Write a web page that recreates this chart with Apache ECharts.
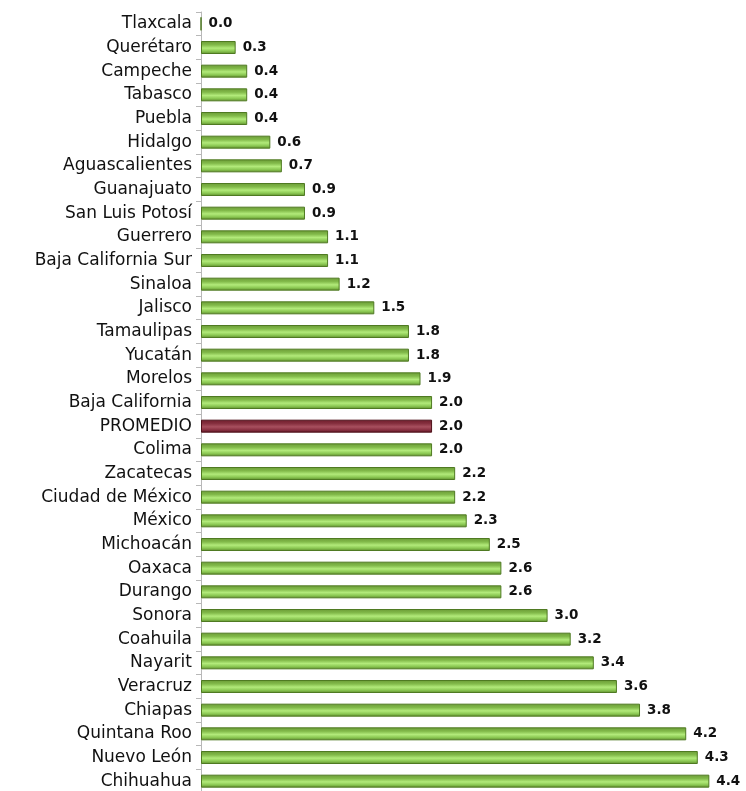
<!DOCTYPE html>
<html>
<head>
<meta charset="utf-8">
<script src="https://cdn.jsdelivr.net/npm/echarts@6/dist/echarts.min.js"></script>
<style>
  html, body { margin: 0; padding: 0; background: #ffffff; }
  #chart { width: 746px; height: 791px; }
</style>
</head>
<body>
<div id="chart"></div>
<script>
// States ordered from lowest to highest rate
const states = [
  'Tlaxcala', 'Querétaro', 'Campeche', 'Tabasco', 'Puebla', 'Hidalgo',
  'Aguascalientes', 'Guanajuato', 'San Luis Potosí', 'Guerrero',
  'Baja California Sur', 'Sinaloa', 'Jalisco', 'Tamaulipas', 'Yucatán',
  'Morelos', 'Baja California', 'PROMEDIO', 'Colima', 'Zacatecas',
  'Ciudad de México', 'México', 'Michoacán', 'Oaxaca', 'Durango', 'Sonora',
  'Coahuila', 'Nayarit', 'Veracruz', 'Chiapas', 'Quintana Roo',
  'Nuevo León', 'Chihuahua'
];
const rates = [
  0.0, 0.3, 0.4, 0.4, 0.4, 0.6, 0.7, 0.9, 0.9, 1.1, 1.1, 1.2, 1.5, 1.8, 1.8,
  1.9, 2.0, 2.0, 2.0, 2.2, 2.2, 2.3, 2.5, 2.6, 2.6, 3.0, 3.2, 3.4, 3.6, 3.8,
  4.2, 4.3, 4.4
];
const averageName = 'PROMEDIO';

const greenFill = new echarts.graphic.LinearGradient(0, 0, 0, 1, [
  { offset: 0, color: '#6a9a35' },
  { offset: 0.3, color: '#82ba4a' },
  { offset: 0.55, color: '#b2ea7a' },
  { offset: 0.78, color: '#8bc853' },
  { offset: 1, color: '#5c892b' }
]);
const maroonFill = new echarts.graphic.LinearGradient(0, 0, 0, 1, [
  { offset: 0, color: '#6e1c2b' },
  { offset: 0.3, color: '#86303f' },
  { offset: 0.55, color: '#a8505f' },
  { offset: 0.78, color: '#8a3142' },
  { offset: 1, color: '#5e1522' }
]);

const barData = rates.map((v, i) => {
  const isAvg = states[i] === averageName;
  return {
    value: v,
    itemStyle: {
      color: isAvg ? maroonFill : greenFill,
      borderColor: isAvg ? '#4e1019' : '#4f7a22',
      borderWidth: 1
    }
  };
});

const chart = echarts.init(document.getElementById('chart'));
chart.setOption({
  animation: false,
  backgroundColor: '#ffffff',
  grid: {
    left: 201, top: 12, width: 543, height: 781,
    containLabel: false,
    outerBoundsMode: 'none'
  },
  xAxis: {
    type: 'value',
    min: 0,
    max: 4.7,
    show: false,
    splitLine: { show: false }
  },
  yAxis: {
    type: 'category',
    data: states,
    inverse: true,
    axisLine: { show: true, lineStyle: { color: '#b8b8b8', width: 1 } },
    axisTick: { show: true, length: 5, lineStyle: { color: '#b8b8b8' } },
    axisLabel: {
      color: '#111111',
      fontFamily: 'DejaVu Sans',
      fontSize: 17,
      margin: 9
    }
  },
  series: [{
    type: 'bar',
    data: barData,
    barWidth: 13,
    label: {
      show: true,
      position: 'right',
      distance: 7,
      color: '#111111',
      fontFamily: 'DejaVu Sans',
      fontWeight: 'bold',
      fontSize: 13.5,
      formatter: p => p.value.toFixed(1)
    }
  }]
});
</script>
</body>
</html>
